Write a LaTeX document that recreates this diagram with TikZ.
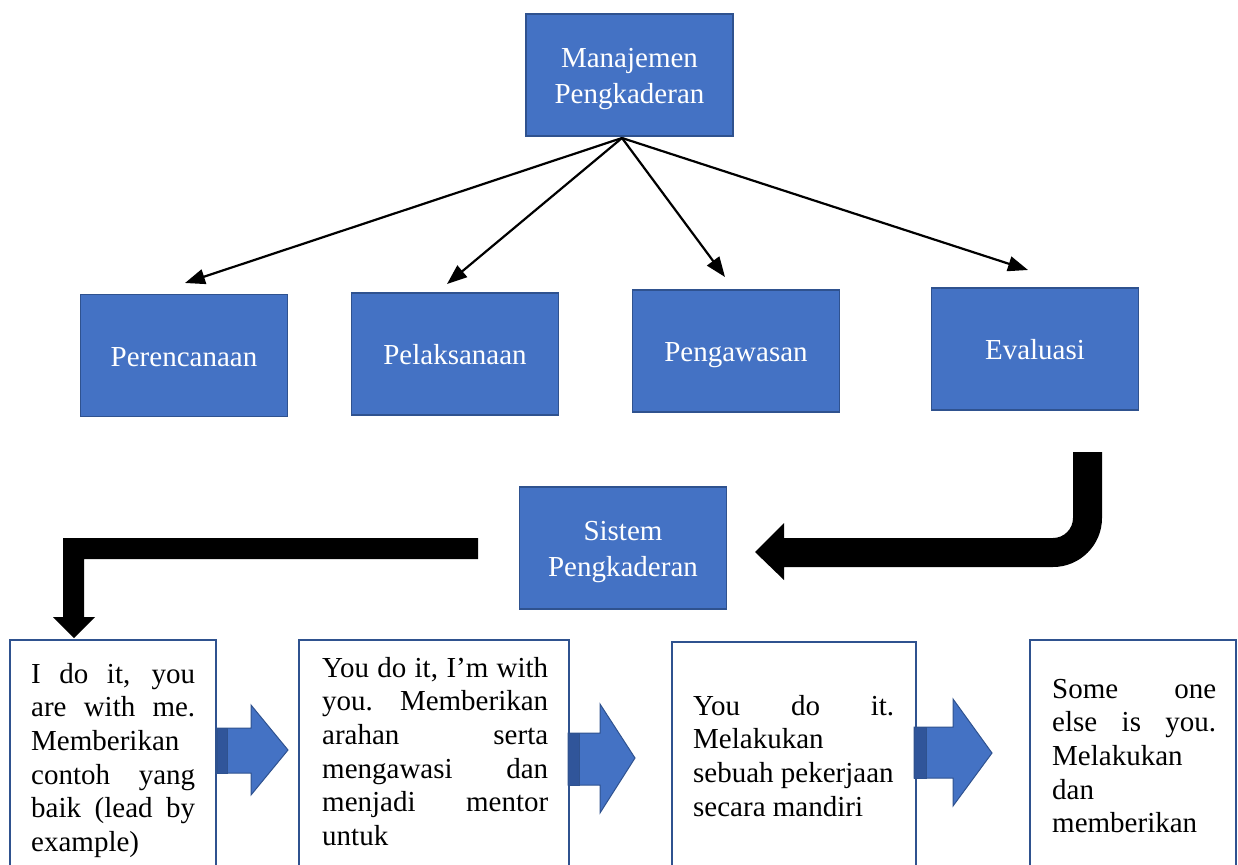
\documentclass[tikz,border=0pt]{standalone}
\usepackage{fontspec}
\setmainfont{Liberation Serif}
\usetikzlibrary{arrows.meta}
\definecolor{wblue}{HTML}{4472C4}
\definecolor{wedge}{HTML}{2F528F}
\definecolor{wdark}{HTML}{30559A}
\newcommand\jline[1]{\makebox[\linewidth][s]{#1}}
\begin{document}
\begin{tikzpicture}[x=1pt,y=-1pt,
  bluebox/.style={draw=wedge, line width=1.6pt, fill=wblue, text=white,
    minimum width=207pt, minimum height=122pt, align=center, inner sep=0pt,
    font=\fontsize{29}{36.5}\selectfont, text height=26pt, text depth=5pt},
  twoline/.style={text height=62.5pt, text depth=5pt},
  whitebox/.style={draw=wedge, line width=2pt, fill=white, anchor=north west,
    inner sep=0pt, outer sep=0pt},
  bodytext/.style={anchor=base west, inner sep=0pt, font=\fontsize{29}{33.7}\selectfont},
  tree/.style={line width=2.2pt, -{Triangle[length=20pt,width=15pt]}},
  blockarrow/.style={fill=wblue, draw=wedge, line width=1pt},
  darkstrip/.style={fill=wdark, draw=wedge, line width=1pt},
  bent/.style={fill=black}]
\useasboundingbox (0,0) rectangle (1238,864);
\clip (0,0) rectangle (1238,864);

% top tree
\node[bluebox, twoline] (man) at (629.5,75) {Manajemen\\Pengkaderan};
\node[bluebox] (per) at (184,355.5) {Perencanaan};
\node[bluebox] (pel) at (455,354) {Pelaksanaan};
\node[bluebox] (pen) at (736,351) {Pengawasan};
\node[bluebox] (eva) at (1035,349) {Evaluasi};
\node[bluebox, twoline] (sis) at (623,548) {Sistem\\Pengkaderan};

\coordinate (mf) at (622,138);
\coordinate (t1) at (185,283);
\coordinate (t2) at (447,284);
\coordinate (t3) at (725,277);
\coordinate (t4) at (1028,270);
\draw[tree] (mf) -- (t1);
\draw[tree] (mf) -- (t2);
\draw[tree] (mf) -- (t3);
\draw[tree] (mf) -- (t4);

% bent black arrows
\fill[bent] (1073,452) -- (1073,518) .. controls (1073,529) and (1064,538) .. (1053,538)
  -- (784,538) -- (784,523) -- (755,552) -- (784,580) -- (784,567) -- (1053,567)
  .. controls (1080,567) and (1102,545) .. (1102,518) -- (1102,452) -- cycle;
\fill[bent] (478,538) -- (63,538) -- (63,617) -- (53,617) -- (74,638) -- (95,617)
  -- (84,617) -- (84,559) -- (478,559) -- cycle;

% bottom boxes
\node[whitebox, minimum width=206pt, minimum height=240pt] (b1) at (10,640) {};
\node[whitebox, minimum width=270pt, minimum height=240pt] (b2) at (299,640) {};
\node[whitebox, minimum width=244pt, minimum height=240pt] (b3) at (672,642) {};
\node[whitebox, minimum width=206pt, minimum height=240pt] (b4) at (1030,640) {};

\node[bodytext] (x1) at (31,683) {\parbox[t]{164pt}{\jline{I do it, you}\\\jline{are with me.}\\Memberikan\\\jline{contoh yang}\\\jline{baik (lead by}\\example)}};
\node[bodytext] (x2) at (322,677) {\parbox[t]{226pt}{\jline{You do it, I’m with}\\\jline{you. Memberikan}\\\jline{arahan serta}\\\jline{mengawasi dan}\\\jline{menjadi mentor}\\untuk}};
\node[bodytext] (x3) at (693,715) {\parbox[t]{201pt}{\jline{You do it.}\\Melakukan\\sebuah pekerjaan\\secara mandiri}};
\node[bodytext] (x4) at (1052,698) {\parbox[t]{164pt}{\jline{Some one}\\\jline{else is you.}\\Melakukan\\dan\\memberikan}};

% blue block arrows
\path[blockarrow] (217,728) -- (251,728) -- (251,705) -- (288,750) -- (251,795) -- (251,773) -- (217,773) -- cycle;
\path[darkstrip] (217,728) rectangle (227,773);
\path[blockarrow] (568,733) -- (600,733) -- (600,704) -- (635,758) -- (600,813) -- (600,785) -- (568,785) -- cycle;
\path[darkstrip] (568,733) rectangle (579,785);
\path[blockarrow] (914,727) -- (953,727) -- (953,699) -- (992,753) -- (953,806) -- (953,778) -- (914,778) -- cycle;
\path[darkstrip] (914,727) rectangle (926,778);
\end{tikzpicture}
\end{document}
